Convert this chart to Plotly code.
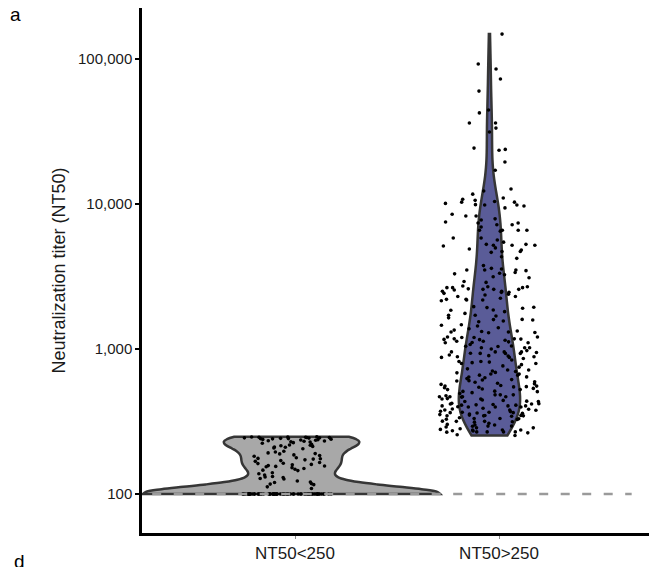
import numpy as np
import plotly.graph_objects as go

# ---------------- data ----------------
groups = ["NT50<250", "NT50>250"]

titer_low = [
    # values at the detection floor (100)
    100, 100, 100, 100, 100, 100, 100, 100, 100, 100,
    100, 100, 100, 100, 100, 100, 100, 100, 100, 100,
    100, 100, 100, 100, 100, 100, 100, 100, 100, 100,
    100, 100, 100, 100, 100, 100, 100, 100, 100, 100,
    100, 100, 100, 100, 100, 100, 100, 100, 100, 100,
    100, 100, 100, 100, 100, 100, 100, 100, 100, 100,
    100, 100, 100, 100, 100, 100, 100, 100, 100, 100,
    # values above the floor
    240, 245, 238, 247, 243, 241, 244, 246, 239, 242, 237, 248, 245, 247, 246, 244, 241,
    232, 229, 236, 226, 233, 235, 228, 231, 224,
    218, 215, 220, 211, 213, 217, 205, 208, 210,
    197, 192, 186, 189, 184, 190, 182, 195,
    178, 174, 170, 176, 172, 165, 160, 162, 159, 163, 168, 175,
    157, 155, 154, 148, 145, 146, 152, 150, 156,
    132, 130, 128, 135, 127, 131, 138, 140,
    120, 118, 121, 116, 123, 117, 112,
    109,
]

titer_high = [
    148600, 85300, 92500, 72800, 60100, 42500, 44500, 36200, 31400, 33400,
    36200, 23500, 23800, 24300, 19500, 17100, 12300, 12700, 11700, 11000,
    10300, 10300, 9850, 9850, 10800, 9700, 9400, 10100, 9900, 10400,
    10600, 8260, 8260, 8500, 7900, 7520, 7400, 7750, 7400, 6950,
    7200, 7200, 6600, 6500, 6600, 6600, 6600, 5830, 5830, 5460,
    5200, 5650, 5270, 5200, 5270, 5200, 4980, 4900, 5140,
    4640, 4820, 4700, 4700, 4330, 4220,
    3760, 3560, 3330, 3100, 3510, 3370, 3510, 3600, 3300, 3510, 3470, 3250, 3150,
    2880, 2920, 2500, 2580, 2550, 2580, 2690, 2460, 2650, 2600, 2580, 2690,
    2720, 2500, 2650, 2460, 2650,
    2360, 2390, 2180, 2300, 2420, 2300, 2240, 2150, 2180, 2200, 2200,
    1940, 1810, 1850, 1930, 1910, 1860, 1960, 1760, 1710, 1640, 1690, 1710, 1560,
    1600, 1595, 1380, 1320, 1460, 1540, 1350, 1310, 1300, 1295, 1330, 1440,
    1470, 1585, 1400, 1310,
    1105, 1120, 1130, 1175, 1160, 1210, 1200, 1200, 1150, 1210, 1110, 1165,
    1105, 1075, 1170, 1040, 1175, 1130,
    910, 885, 895, 935, 955, 1000, 1020, 955, 885, 1050, 1020, 975, 955, 945,
    955, 933, 1020, 1045, 900, 860, 933, 875, 805,
    700, 672, 634, 795, 765, 660, 820, 812, 875, 840, 795, 730, 660, 640, 820,
    933, 716, 705, 750, 780, 716, 690, 672, 642, 685, 595,
    548, 525, 500, 601, 510, 625, 580, 555, 590, 550, 535, 555, 605, 570, 545,
    560, 615, 525, 540, 512, 612, 530, 575, 508, 469,
    410, 398, 469, 435, 378, 362, 420, 437, 405, 412, 398, 445, 435, 455, 405,
    469, 452, 418, 483, 469, 476, 398, 405, 418, 483, 452, 414, 380, 400, 422,
    442, 410, 466, 493, 483,
    348, 366, 380, 346, 317, 332, 346, 353, 332, 370, 350, 356, 348, 360, 384,
    344, 372, 366, 346, 364, 364, 386, 390, 313, 327, 318, 315, 336, 317, 330, 328,
    302, 279, 273, 286, 267, 268, 294, 256, 253, 276, 294, 272, 286, 264, 276,
    299, 299, 282, 293, 307, 268, 268, 268, 276, 290,
]

y_tick_values = [100, 1000, 10000, 100000]
y_tick_labels = ["100", "1,000", "10,000", "100,000"]
detection_limit = 100

# ---------------- styling / layout constants ----------------
FONT = "Liberation Sans, Arial, sans-serif"
FILL_LOW = "#A8A8A8"
FILL_HIGH = "#5A5C98"
OUTLINE = "#363636"

# ggplot-style log10 scale: the density is estimated on the log10 scale
y_low = np.log10(np.array(titer_low, dtype=float))
y_high = np.log10(np.array(titer_high, dtype=float))


def nrd0(v):
    v = np.asarray(v, dtype=float)
    sd = v.std(ddof=1)
    q75, q25 = np.percentile(v, [75, 25])
    lo = min(sd, (q75 - q25) / 1.34) if (q75 - q25) > 0 else sd
    return 0.9 * lo * len(v) ** -0.2


fig = go.Figure()

# violins
for yv, pos, w, fill in [
    (y_low, 0.983, 1.456, FILL_LOW),
    (y_high, 1.953, 0.30, FILL_HIGH),
]:
    fig.add_trace(go.Violin(
        x0=pos, y=yv, width=w, scalemode="width", spanmode="hard",
        bandwidth=nrd0(yv), fillcolor=fill,
        line=dict(color=OUTLINE, width=2.5),
        points=False, box_visible=False, meanline_visible=False,
        hoverinfo="skip", showlegend=False, orientation="v",
    ))

# jittered points (library jitter)
for yv, pos, w in [(y_low, 0.966, 0.45), (y_high, 1.951, 0.49)]:
    fig.add_trace(go.Violin(
        x0=pos, y=yv, width=w, scalemode="width", spanmode="hard",
        fillcolor="rgba(0,0,0,0)", line=dict(color="rgba(0,0,0,0)", width=0),
        points="all", jitter=1, pointpos=0,
        marker=dict(color="black", size=3.6, line=dict(width=0)),
        box_visible=False, meanline_visible=False,
        hoverinfo="skip", showlegend=False, orientation="v",
    ))

fig.add_shape(
    type="line", xref="x", yref="y", x0=0.30, x1=2.65,
    y0=np.log10(detection_limit), y1=np.log10(detection_limit),
    line=dict(color="#9A9A9A", width=2.4, dash="9px,12.5px"), layer="above",
)

fig.update_layout(
    width=649, height=567,
    margin=dict(l=142, r=0, t=8, b=34),
    paper_bgcolor="white", plot_bgcolor="white",
    violinmode="overlay",
    font=dict(family=FONT, color="#1a1a1a"),
    xaxis=dict(
        range=[0.25, 2.735], tickmode="array", tickvals=[1, 2], ticktext=groups,
        showgrid=False, zeroline=False, showline=True, linecolor="black", linewidth=2.5,
        ticks="outside", ticklen=3, tickwidth=1, tickcolor="#8a8a8a",
        tickfont=dict(size=17, color="#1a1a1a", family=FONT),
    ),
    yaxis=dict(
        range=[1.731, 5.352], tickmode="array",
        tickvals=list(np.log10(y_tick_values)), ticktext=y_tick_labels,
        showgrid=False, zeroline=False, showline=True, linecolor="black", linewidth=2.5,
        ticks="outside", ticklen=4, tickwidth=2, tickcolor="black",
        tickfont=dict(size=15, color="#1a1a1a", family=FONT),
        title=dict(text="Neutralization titer (NT50)", standoff=8,
                   font=dict(size=18, color="#1a1a1a", family=FONT)),
    ),
    annotations=[
        dict(text="a", xref="paper", yref="paper", x=(8 - 142) / 507, y=(533 - 15) / 525,
             xanchor="left", yanchor="middle", showarrow=False,
             font=dict(size=19, color="black", family=FONT)),
        dict(text="d", xref="paper", yref="paper", x=(12 - 142) / 507, y=(533 - 549) / 525,
             xanchor="left", yanchor="top", showarrow=False,
             font=dict(size=19, color="black", family=FONT)),
    ],
)

fig.write_html("out.html")
